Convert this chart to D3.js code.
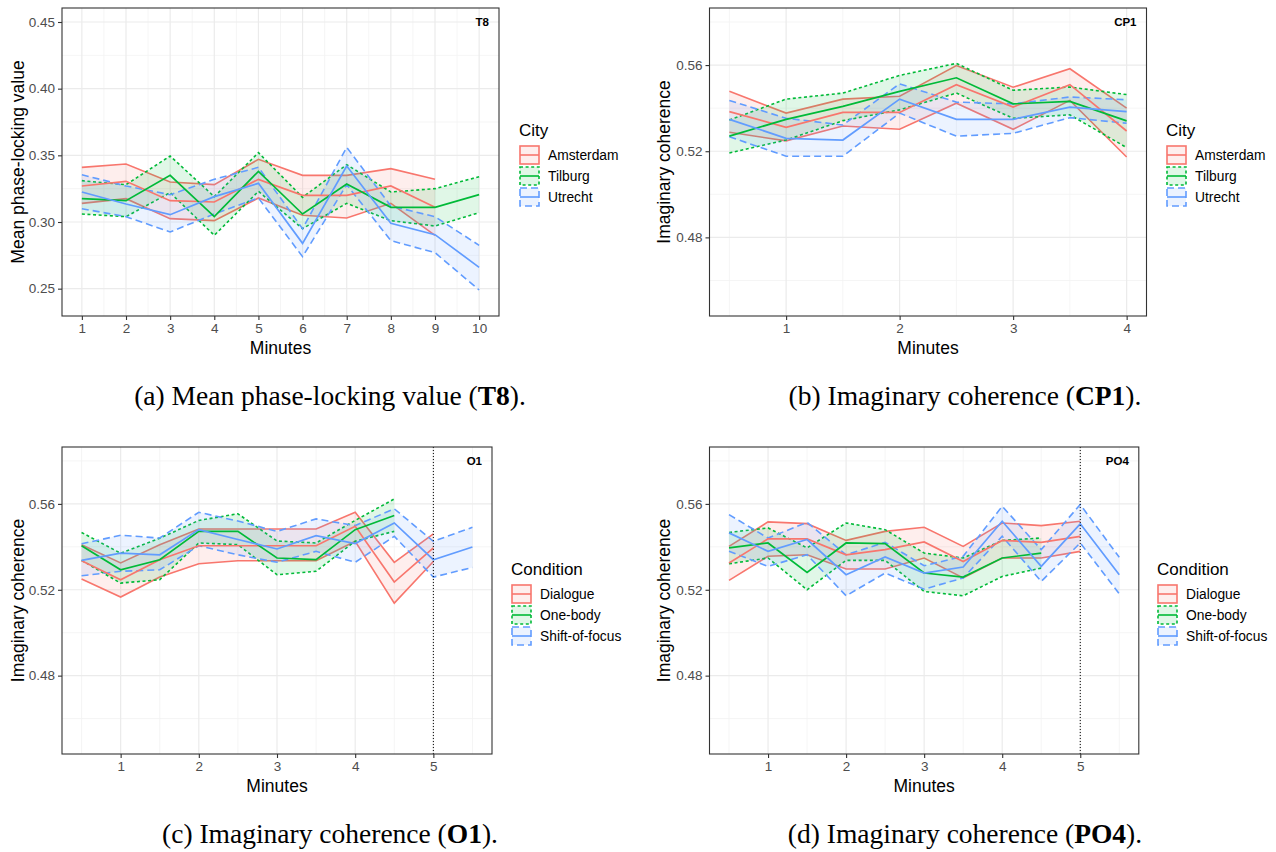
<!DOCTYPE html>
<html>
<head>
<meta charset="utf-8">
<script src="https://cdn.jsdelivr.net/npm/d3@7"></script>
<style>
  body { margin: 0; background: #fff; }
  svg { display: block; font-family: "Liberation Sans", Arial, sans-serif; }
</style>
</head>
<body>
<script>
// ---- data ----
// (a) T8, mean phase-locking value by city
const minutesT8 = [1, 2, 3, 4, 5, 6, 7, 8, 9, 10];
const t8AmsterdamMean = [0.327, 0.3305, 0.316, 0.315, 0.332, 0.320, 0.320, 0.327, 0.311];
const t8AmsterdamLow  = [0.314, 0.3175, 0.3025, 0.301, 0.318, 0.305, 0.303, 0.314, 0.290];
const t8AmsterdamHigh = [0.341, 0.3435, 0.330, 0.328, 0.347, 0.335, 0.335, 0.340, 0.332];
const t8TilburgMean = [0.3175, 0.316, 0.335, 0.304, 0.338, 0.306, 0.3285, 0.311, 0.311, 0.3205];
const t8TilburgLow  = [0.306, 0.304, 0.322, 0.290, 0.323, 0.295, 0.314, 0.301, 0.297, 0.307];
const t8TilburgHigh = [0.331, 0.328, 0.3495, 0.319, 0.352, 0.3185, 0.343, 0.3225, 0.325, 0.334];
const t8UtrechtMean = [0.3225, 0.3135, 0.3055, 0.319, 0.329, 0.284, 0.342, 0.299, 0.2905, 0.266];
const t8UtrechtLow  = [0.310, 0.304, 0.2925, 0.306, 0.318, 0.274, 0.328, 0.286, 0.277, 0.249];
const t8UtrechtHigh = [0.3355, 0.327, 0.3205, 0.332, 0.341, 0.295, 0.356, 0.312, 0.304, 0.2825];

// (b) CP1, imaginary coherence by city
const minutesCP1 = [0.5, 1, 1.5, 2, 2.5, 3, 3.5, 4];
const cp1AmsterdamMean = [0.5384, 0.5311, 0.538, 0.538, 0.5509, 0.5405, 0.5509, 0.5294];
const cp1AmsterdamLow  = [0.5288, 0.5248, 0.5317, 0.5302, 0.5423, 0.5302, 0.5436, 0.5173];
const cp1AmsterdamHigh = [0.5478, 0.5377, 0.5442, 0.5455, 0.5598, 0.5497, 0.5583, 0.540];
const cp1TilburgMean = [0.527, 0.5348, 0.5408, 0.5478, 0.5541, 0.542, 0.5431, 0.5341];
const cp1TilburgLow  = [0.5192, 0.5252, 0.5342, 0.5392, 0.547, 0.5353, 0.5369, 0.5217];
const cp1TilburgHigh = [0.5345, 0.5442, 0.547, 0.5552, 0.5608, 0.5483, 0.5498, 0.5463];
const cp1UtrechtMean = [0.5348, 0.526, 0.5252, 0.5442, 0.5348, 0.5348, 0.5405, 0.5384];
const cp1UtrechtLow  = [0.5267, 0.5177, 0.5177, 0.5377, 0.527, 0.5283, 0.5356, 0.533];
const cp1UtrechtHigh = [0.5436, 0.5353, 0.5322, 0.5513, 0.5428, 0.542, 0.5452, 0.5439];

// (c) O1, imaginary coherence by condition
const minutesO1 = [0.5, 1, 1.5, 2, 2.5, 3, 3.5, 4, 4.5, 5, 5.5];
const o1DialogueMean = [0.5335, 0.5247, 0.534, 0.5405, 0.5405, 0.5405, 0.5405, 0.5496, 0.5236, 0.5395];
const o1DialogueLow  = [0.525, 0.5166, 0.5259, 0.5321, 0.5335, 0.5335, 0.5335, 0.5426, 0.5138, 0.5332];
const o1DialogueHigh = [0.541, 0.5325, 0.541, 0.5483, 0.5483, 0.5483, 0.5483, 0.5561, 0.5328, 0.546];
const o1OneBodyMean = [0.5405, 0.5293, 0.534, 0.5472, 0.5472, 0.5348, 0.534, 0.548, 0.5546];
const o1OneBodyLow  = [0.5337, 0.5231, 0.5247, 0.5418, 0.541, 0.527, 0.5286, 0.5426, 0.5472];
const o1OneBodyHigh = [0.5467, 0.537, 0.544, 0.5523, 0.5554, 0.5427, 0.5418, 0.5523, 0.5623];
const o1ShiftMean = [0.5337, 0.5371, 0.5363, 0.548, 0.5434, 0.539, 0.5452, 0.5415, 0.5511, 0.534, 0.5399];
const o1ShiftLow  = [0.5265, 0.5286, 0.5293, 0.5405, 0.5363, 0.5328, 0.5379, 0.5328, 0.5449, 0.5259, 0.5304];
const o1ShiftHigh = [0.5414, 0.5454, 0.5441, 0.5561, 0.552, 0.5472, 0.553, 0.5499, 0.5577, 0.5426, 0.5491];

// (d) PO4, imaginary coherence by condition
const minutesPO4 = [0.5, 1, 1.5, 2, 2.5, 3, 3.5, 4, 4.5, 5, 5.5];
const po4DialogueMean = [0.5325, 0.5437, 0.5437, 0.5363, 0.5387, 0.5423, 0.5332, 0.543, 0.5421, 0.5449];
const po4DialogueLow  = [0.5244, 0.5356, 0.5363, 0.5297, 0.5297, 0.5348, 0.5255, 0.5348, 0.5348, 0.5379];
const po4DialogueHigh = [0.5402, 0.5516, 0.5508, 0.543, 0.5472, 0.5491, 0.5402, 0.5511, 0.5499, 0.5519];
const po4OneBodyMean = [0.5395, 0.5418, 0.5281, 0.5418, 0.5415, 0.5278, 0.5259, 0.5348, 0.5371];
const po4OneBodyLow  = [0.5321, 0.5348, 0.520, 0.5337, 0.5337, 0.5192, 0.5172, 0.5262, 0.5301];
const po4OneBodyHigh = [0.5467, 0.5488, 0.5395, 0.5511, 0.548, 0.5371, 0.5348, 0.543, 0.5441];
const po4ShiftMean = [0.5465, 0.5379, 0.5434, 0.527, 0.5353, 0.5278, 0.5306, 0.5519, 0.5309, 0.5507, 0.527];
const po4ShiftLow  = [0.5379, 0.5309, 0.5363, 0.5172, 0.5278, 0.5203, 0.5255, 0.5449, 0.5239, 0.5418, 0.5181];
const po4ShiftHigh = [0.555, 0.5441, 0.5514, 0.5363, 0.5421, 0.5312, 0.5356, 0.5589, 0.5387, 0.5597, 0.5351];

const cities = ["Amsterdam", "Tilburg", "Utrecht"];
const conditions = ["Dialogue", "One-body", "Shift-of-focus"];
const hueColors = ["#F8766D", "#00BA38", "#619CFF"];
const dashes = [null, "3,2.6", "7,4"];

const coherenceTicks = [0.48, 0.52, 0.56];
const coherenceMinor = [0.46, 0.50, 0.54, 0.58];

// ---- drawing ----
const svg = d3.select("body").append("svg")
  .attr("width", 1276)
  .attr("height", 852);

function makeSeries(names, xs, rows) {
  // rows: [[mean, low, high], ...] per group
  return names.map((name, i) => ({
    name,
    color: hueColors[i],
    dash: dashes[i],
    points: rows[i][0].map((m, j) => ({ x: xs[j], mean: m, low: rows[i][1][j], high: rows[i][2][j] }))
  }));
}

function drawPanel(p) {
  const g = svg.append("g");
  const x = d3.scaleLinear().domain(p.xDomain).range([p.left, p.right]);
  const y = d3.scaleLinear().domain(p.yDomain).range([p.bottom, p.top]);

  // grid
  const grid = g.append("g");
  grid.selectAll("line.ymin").data(p.yMinor).enter().append("line")
    .attr("x1", p.left).attr("x2", p.right)
    .attr("y1", d => y(d)).attr("y2", d => y(d))
    .attr("stroke", "#f3f3f3").attr("stroke-width", 0.8);
  grid.selectAll("line.xmin").data(p.xMinor).enter().append("line")
    .attr("y1", p.top).attr("y2", p.bottom)
    .attr("x1", d => x(d)).attr("x2", d => x(d))
    .attr("stroke", "#f3f3f3").attr("stroke-width", 0.8);
  grid.selectAll("line.ymaj").data(p.yTicks).enter().append("line")
    .attr("x1", p.left).attr("x2", p.right)
    .attr("y1", d => y(d)).attr("y2", d => y(d))
    .attr("stroke", "#ebebeb").attr("stroke-width", 1.2);
  grid.selectAll("line.xmaj").data(p.xTicks).enter().append("line")
    .attr("y1", p.top).attr("y2", p.bottom)
    .attr("x1", d => x(d)).attr("x2", d => x(d))
    .attr("stroke", "#ebebeb").attr("stroke-width", 1.2);

  const area = d3.area().x(d => x(d.x)).y0(d => y(d.low)).y1(d => y(d.high));
  const lineOf = key => d3.line().x(d => x(d.x)).y(d => y(d[key]));

  // ribbons with outlined edges
  p.series.forEach(s => {
    g.append("path").attr("d", area(s.points))
      .attr("fill", s.color).attr("fill-opacity", 0.12);
    ["low", "high"].forEach(k => {
      g.append("path").attr("d", lineOf(k)(s.points))
        .attr("fill", "none").attr("stroke", s.color)
        .attr("stroke-width", 1.6)
        .attr("stroke-dasharray", s.dash);
    });
  });
  // mean lines
  p.series.forEach(s => {
    g.append("path").attr("d", lineOf("mean")(s.points))
      .attr("fill", "none").attr("stroke", s.color)
      .attr("stroke-width", 1.7);
  });

  if (p.vline != null) {
    g.append("line")
      .attr("x1", x(p.vline)).attr("x2", x(p.vline))
      .attr("y1", p.top).attr("y2", p.bottom)
      .attr("stroke", "#000").attr("stroke-width", 1)
      .attr("stroke-dasharray", "1,2");
  }

  // border
  g.append("rect")
    .attr("x", p.left).attr("y", p.top)
    .attr("width", p.right - p.left).attr("height", p.bottom - p.top)
    .attr("fill", "none").attr("stroke", "#333333").attr("stroke-width", 1.1);

  // axes
  const fmt = d3.format(p.yFormat);
  const yAxis = g.append("g").attr("transform", `translate(${p.left},0)`)
    .call(d3.axisLeft(y).tickValues(p.yTicks).tickFormat(fmt).tickSize(4).tickPadding(3));
  const xAxis = g.append("g").attr("transform", `translate(0,${p.bottom})`)
    .call(d3.axisBottom(x).tickValues(p.xTicks).tickFormat(d3.format("d")).tickSize(4).tickPadding(3));
  [yAxis, xAxis].forEach(a => {
    a.select(".domain").remove();
    a.selectAll(".tick line").attr("stroke", "#333333").attr("stroke-width", 1.1);
    a.selectAll(".tick text")
      .attr("fill", "#4d4d4d")
      .style("font-size", "13.5px")
      .style("font-family", "Liberation Sans, Arial, sans-serif");
  });

  g.append("text")
    .attr("transform", `translate(${p.yTitleX},${(p.top + p.bottom) / 2}) rotate(-90)`)
    .attr("text-anchor", "middle").attr("dy", "0.35em")
    .style("font-size", "17.5px").text(p.yTitle);
  g.append("text")
    .attr("x", (p.left + p.right) / 2).attr("y", p.bottom + 38)
    .attr("text-anchor", "middle")
    .style("font-size", "17.5px").text("Minutes");

  g.append("text")
    .attr("x", p.right - 10).attr("y", p.top + 18)
    .attr("text-anchor", "end")
    .style("font-size", "11.5px").style("font-weight", "bold")
    .text(p.tag);

  // legend
  const lg = g.append("g").attr("transform", `translate(${p.legendX},${p.legendY})`);
  lg.append("text").attr("x", 0).attr("y", 0)
    .style("font-size", "17px").text(p.legendTitle);
  const rows = lg.selectAll("g.key").data(p.series).enter().append("g")
    .attr("transform", (d, i) => `translate(0,${9 + i * 21})`);
  rows.append("rect")
    .attr("x", 1).attr("y", 1).attr("width", 19).attr("height", 18)
    .attr("fill", d => d.color).attr("fill-opacity", 0.12)
    .attr("stroke", d => d.color).attr("stroke-width", 1.6)
    .attr("stroke-dasharray", d => d.dash);
  rows.append("line")
    .attr("x1", 1).attr("x2", 20).attr("y1", 10).attr("y2", 10)
    .attr("stroke", d => d.color).attr("stroke-width", 1.6);
  rows.append("text")
    .attr("x", 29).attr("y", 10).attr("dy", "0.35em")
    .style("font-size", "13.8px").text(d => d.name);
}

drawPanel({
  left: 62, right: 499, top: 8, bottom: 316,
  xDomain: [0.55, 10.45], yDomain: [0.2295, 0.4605],
  xTicks: minutesT8, xMinor: d3.range(1.5, 10, 1),
  yTicks: [0.25, 0.30, 0.35, 0.40, 0.45], yMinor: [0.275, 0.325, 0.375, 0.425],
  yFormat: ".2f", yTitle: "Mean phase-locking value", yTitleX: 18,
  tag: "T8", legendTitle: "City", legendX: 519, legendY: 136,
  series: makeSeries(cities, minutesT8, [
    [t8AmsterdamMean, t8AmsterdamLow, t8AmsterdamHigh],
    [t8TilburgMean, t8TilburgLow, t8TilburgHigh],
    [t8UtrechtMean, t8UtrechtLow, t8UtrechtHigh]
  ])
});

drawPanel({
  left: 709.5, right: 1146.5, top: 8, bottom: 316,
  xDomain: [0.325, 4.175], yDomain: [0.4435, 0.5865],
  xTicks: [1, 2, 3, 4], xMinor: [0.5, 1.5, 2.5, 3.5],
  yTicks: coherenceTicks, yMinor: coherenceMinor,
  yFormat: ".2f", yTitle: "Imaginary coherence", yTitleX: 664,
  tag: "CP1", legendTitle: "City", legendX: 1166, legendY: 136,
  series: makeSeries(cities, minutesCP1, [
    [cp1AmsterdamMean, cp1AmsterdamLow, cp1AmsterdamHigh],
    [cp1TilburgMean, cp1TilburgLow, cp1TilburgHigh],
    [cp1UtrechtMean, cp1UtrechtLow, cp1UtrechtHigh]
  ])
});

drawPanel({
  left: 62, right: 492, top: 447, bottom: 754,
  xDomain: [0.25, 5.75], yDomain: [0.4435, 0.5865],
  xTicks: [1, 2, 3, 4, 5], xMinor: [0.5, 1.5, 2.5, 3.5, 4.5, 5.5],
  yTicks: coherenceTicks, yMinor: coherenceMinor,
  yFormat: ".2f", yTitle: "Imaginary coherence", yTitleX: 18,
  tag: "O1", legendTitle: "Condition", legendX: 511, legendY: 575, vline: 5,
  series: makeSeries(conditions, minutesO1, [
    [o1DialogueMean, o1DialogueLow, o1DialogueHigh],
    [o1OneBodyMean, o1OneBodyLow, o1OneBodyHigh],
    [o1ShiftMean, o1ShiftLow, o1ShiftHigh]
  ])
});

drawPanel({
  left: 709.5, right: 1138.8, top: 447, bottom: 754,
  xDomain: [0.25, 5.75], yDomain: [0.4435, 0.5865],
  xTicks: [1, 2, 3, 4, 5], xMinor: [0.5, 1.5, 2.5, 3.5, 4.5, 5.5],
  yTicks: coherenceTicks, yMinor: coherenceMinor,
  yFormat: ".2f", yTitle: "Imaginary coherence", yTitleX: 664,
  tag: "PO4", legendTitle: "Condition", legendX: 1157, legendY: 575, vline: 5,
  series: makeSeries(conditions, minutesPO4, [
    [po4DialogueMean, po4DialogueLow, po4DialogueHigh],
    [po4OneBodyMean, po4OneBodyLow, po4OneBodyHigh],
    [po4ShiftMean, po4ShiftLow, po4ShiftHigh]
  ])
});

// captions under each panel
const captions = [
  { x: 330, y: 405, pre: "(a) Mean phase-locking value (", bold: "T8", post: ")." },
  { x: 965, y: 405, pre: "(b) Imaginary coherence (", bold: "CP1", post: ")." },
  { x: 330, y: 843, pre: "(c) Imaginary coherence (", bold: "O1", post: ")." },
  { x: 965, y: 843, pre: "(d) Imaginary coherence (", bold: "PO4", post: ")." }
];
captions.forEach(c => {
  const t = svg.append("text")
    .attr("x", c.x).attr("y", c.y)
    .attr("text-anchor", "middle")
    .style("font-family", "Liberation Serif, Times New Roman, serif")
    .style("font-size", "27.5px");
  t.append("tspan").text(c.pre);
  t.append("tspan").style("font-weight", "bold").text(c.bold);
  t.append("tspan").text(c.post);
});
</script>
</body>
</html>
